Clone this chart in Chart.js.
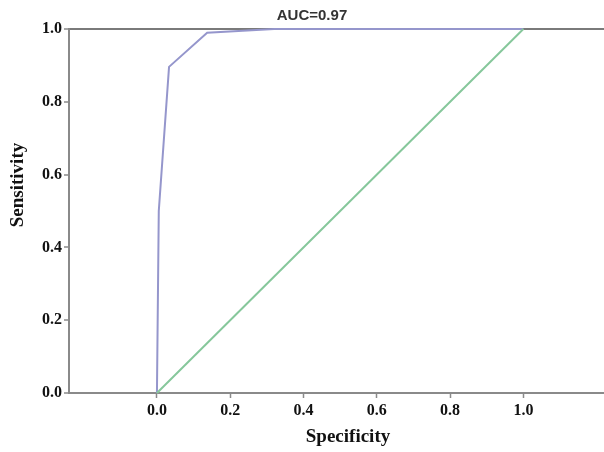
<!DOCTYPE html>
<html>
<head>
<meta charset="utf-8">
<script src="https://cdn.jsdelivr.net/npm/chart.js@4.4.1/dist/chart.umd.min.js"></script>
<style>
  html, body { margin: 0; padding: 0; background: #fff; overflow: hidden; }
  #wrap { width: 604px; height: 452px; position: relative; }
</style>
</head>
<body>
<div id="wrap"><canvas id="roc"></canvas></div>
<script>
// ROC curve points
const rocX = [0, 0.005, 0.033, 0.137, 0.32, 1.0]
const rocY = [0, 0.5, 0.896, 0.99, 1.0, 1.0]
// chance line
const diagX = [0, 1]
const diagY = [0, 1]
const xTicks = [0, 0.2, 0.4, 0.6, 0.8, 1.0]
const yTicks = [0, 0.2, 0.4, 0.6, 0.8, 1.0]
const titleText = "AUC=0.97"
const xTitle = "Specificity"
const yTitle = "Sensitivity"

const axisGray = "#8a8a8a"
const tickFont = { family: "'Liberation Serif', serif", weight: "bold", size: 16 }

const toPoints = (xs, ys) => xs.map((x, i) => ({ x: x, y: ys[i] }))

// titles drawn as plain text
const labelsPlugin = {
  id: "labels",
  afterDraw(chart) {
    const ctx = chart.ctx
    ctx.save()
    ctx.fillStyle = "#333"
    ctx.font = "bold 15px 'Liberation Sans', Arial, sans-serif"
    ctx.textAlign = "center"
    ctx.textBaseline = "middle"
    ctx.fillText(titleText, 312, 16)

    ctx.fillStyle = "#111"
    ctx.font = "bold 19px 'Liberation Serif', serif"
    ctx.fillText(xTitle, 348, 437)

    ctx.translate(18, 185)
    ctx.rotate(-Math.PI / 2)
    ctx.fillText(yTitle, 0, 0)
    ctx.restore()
  },
}

new Chart(document.getElementById("roc"), {
  type: "scatter",
  data: {
    datasets: [
      {
        data: toPoints(diagX, diagY),
        showLine: true,
        borderColor: "#86c79b",
        borderWidth: 2,
        pointRadius: 0,
        clip: false,
      },
      {
        data: toPoints(rocX, rocY),
        showLine: true,
        borderColor: "#9596cc",
        borderWidth: 2,
        pointRadius: 0,
        clip: false,
      },
    ],
  },
  options: {
    responsive: true,
    maintainAspectRatio: false,
    animation: false,
    layout: { padding: { top: 29, right: 0, left: 0, bottom: 0 } },
    plugins: {
      legend: { display: false },
      tooltip: { enabled: false },
    },
    scales: {
      x: {
        type: "linear",
        min: -0.24,
        max: 1.22,
        afterBuildTicks: (scale) => {
          scale.ticks = xTicks.map((v) => ({ value: v }))
        },
        afterFit: (scale) => {
          scale.height = 59
        },
        border: { color: axisGray, width: 2 },
        grid: {
          color: "rgba(0,0,0,0)",
          tickColor: axisGray,
          tickLength: 5,
          tickWidth: 1.5,
        },
        ticks: {
          color: "#111",
          font: tickFont,
          padding: 3,
          maxRotation: 0,
          callback: (v) => v.toFixed(1),
        },
      },
      y: {
        type: "linear",
        min: 0,
        max: 1,
        afterBuildTicks: (scale) => {
          scale.ticks = yTicks.map((v) => ({ value: v }))
        },
        afterFit: (scale) => {
          scale.width = 69
        },
        border: { color: axisGray, width: 2 },
        grid: {
          color: (c) => (c.tick && c.tick.value === 1 ? "#7a7a7a" : "rgba(0,0,0,0)"),
          lineWidth: 2,
          tickColor: axisGray,
          tickLength: 5,
          tickWidth: 1.5,
        },
        ticks: {
          color: "#111",
          font: tickFont,
          padding: 2,
          callback: (v) => v.toFixed(1),
        },
      },
    },
  },
  plugins: [labelsPlugin],
})
</script>
</body>
</html>
